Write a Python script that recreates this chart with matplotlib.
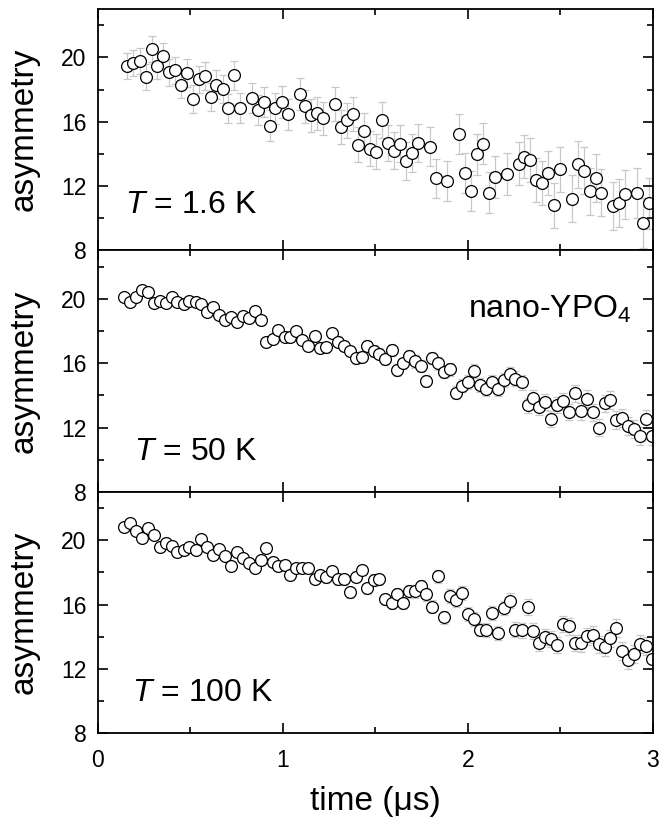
import matplotlib
matplotlib.use('Agg')
import matplotlib.pyplot as plt
from matplotlib.ticker import MultipleLocator

plt.rcParams['font.family'] = ['Liberation Sans', 'DejaVu Sans']
plt.rcParams['mathtext.fontset'] = 'custom'
plt.rcParams['mathtext.rm'] = 'Liberation Sans'
plt.rcParams['mathtext.it'] = 'Liberation Sans:italic'

# T = 1.6 K
t_low = [0.161, 0.192, 0.228, 0.260, 0.291, 0.323, 0.354, 0.385, 0.419, 0.449,
         0.482, 0.514, 0.545, 0.579, 0.612, 0.642, 0.675, 0.707, 0.739, 0.770,
         0.833, 0.867, 0.898, 0.930, 0.961, 0.995, 1.028, 1.091, 1.123, 1.154,
         1.186, 1.218, 1.281, 1.314, 1.346, 1.379, 1.409, 1.442, 1.474, 1.505,
         1.539, 1.571, 1.602, 1.634, 1.667, 1.699, 1.732, 1.795, 1.829, 1.890,
         1.955, 1.987, 2.020, 2.050, 2.083, 2.115, 2.148, 2.211, 2.276, 2.306,
         2.339, 2.371, 2.403, 2.436, 2.466, 2.499, 2.564, 2.594, 2.628, 2.659,
         2.691, 2.722, 2.787, 2.819, 2.852, 2.915, 2.947, 2.979]
asy_low = [19.46, 19.65, 19.77, 18.79, 20.54, 19.46, 20.08, 19.08, 19.19, 18.29,
           19.02, 17.42, 18.63, 18.85, 17.52, 18.31, 18.04, 16.83, 18.88, 16.85,
           17.50, 16.71, 17.23, 15.75, 16.83, 17.23, 16.46, 17.71, 16.96, 16.40,
           16.52, 16.21, 17.08, 15.69, 16.08, 16.48, 14.58, 15.44, 14.33, 14.15,
           16.08, 14.67, 14.21, 14.63, 13.56, 14.06, 14.67, 14.46, 12.48, 12.31,
           15.23, 12.79, 11.71, 13.98, 14.63, 11.60, 12.56, 12.73, 13.38, 13.83,
           13.63, 12.38, 12.21, 12.83, 10.81, 13.06, 11.23, 13.35, 12.96, 11.67,
           12.50, 11.60, 10.77, 10.96, 11.48, 11.58, 9.71, 10.92]
err_low = [0.78, 0.79, 0.80, 0.80, 0.81, 0.82, 0.82, 0.83, 0.84, 0.84,
           0.85, 0.86, 0.86, 0.87, 0.88, 0.88, 0.89, 0.90, 0.90, 0.91,
           0.93, 0.94, 0.95, 0.95, 0.96, 0.97, 0.98, 1.00, 1.01, 1.02,
           1.02, 1.03, 1.05, 1.06, 1.07, 1.08, 1.08, 1.09, 1.10, 1.11,
           1.12, 1.13, 1.14, 1.14, 1.15, 1.16, 1.17, 1.19, 1.20, 1.22,
           1.23, 1.24, 1.25, 1.26, 1.27, 1.28, 1.29, 1.31, 1.33, 1.34,
           1.35, 1.36, 1.37, 1.38, 1.39, 1.40, 1.43, 1.44, 1.45, 1.46,
           1.47, 1.48, 1.50, 1.51, 1.52, 1.54, 1.55, 1.56]

# T = 50 K and T = 100 K share the same time bins
t_high = [0.143, 0.176, 0.208, 0.237, 0.273, 0.304, 0.336, 0.368, 0.401, 0.431,
          0.464, 0.496, 0.529, 0.561, 0.592, 0.624, 0.657, 0.689, 0.721, 0.752,
          0.784, 0.817, 0.849, 0.882, 0.912, 0.945, 0.977, 1.010, 1.042, 1.074,
          1.107, 1.139, 1.172, 1.202, 1.235, 1.267, 1.298, 1.330, 1.363, 1.395,
          1.427, 1.458, 1.492, 1.521, 1.555, 1.589, 1.620, 1.651, 1.683, 1.715,
          1.746, 1.777, 1.809, 1.842, 1.874, 1.906, 1.939, 1.971, 2.004, 2.036,
          2.068, 2.101, 2.133, 2.164, 2.196, 2.227, 2.258, 2.292, 2.324, 2.355,
          2.387, 2.420, 2.452, 2.483, 2.515, 2.547, 2.582, 2.612, 2.645, 2.677,
          2.710, 2.740, 2.771, 2.803, 2.836, 2.868, 2.900, 2.933, 2.965, 2.994]
asy_50 = [20.10, 19.79, 20.14, 20.52, 20.45, 19.73, 19.85, 19.75, 20.12, 19.81,
          19.69, 19.85, 19.77, 19.65, 19.17, 19.46, 19.00, 18.71, 18.84, 18.55,
          18.96, 18.82, 19.25, 18.67, 17.33, 17.53, 18.09, 17.64, 17.64, 17.97,
          17.45, 17.06, 17.68, 16.95, 16.98, 17.89, 17.33, 17.06, 16.75, 16.29,
          16.40, 17.06, 16.75, 16.60, 16.23, 16.81, 15.55, 15.98, 16.44, 16.11,
          15.82, 14.88, 16.33, 15.98, 15.48, 15.61, 14.16, 14.61, 14.84, 15.50,
          14.64, 14.41, 14.84, 14.41, 14.95, 15.30, 15.03, 14.82, 13.37, 13.85,
          13.27, 13.58, 12.54, 13.39, 13.62, 12.96, 14.12, 13.00, 13.79, 12.96,
          11.99, 13.50, 13.72, 12.48, 12.61, 12.07, 11.88, 11.47, 12.54, 11.47]
asy_100 = [20.83, 21.04, 20.58, 20.12, 20.75, 20.31, 19.58, 19.83, 19.63, 19.27,
           19.40, 19.58, 19.38, 20.06, 19.56, 19.09, 19.44, 19.02, 18.40, 19.25,
           18.90, 18.59, 18.28, 18.75, 19.52, 18.67, 18.40, 18.48, 17.82, 18.30,
           18.30, 18.28, 17.61, 17.84, 17.69, 18.07, 17.57, 17.57, 16.76, 17.74,
           18.15, 17.01, 17.53, 17.57, 16.32, 16.07, 16.68, 16.12, 16.82, 16.82,
           17.15, 16.64, 15.87, 17.76, 15.20, 16.53, 16.26, 16.72, 15.41, 15.08,
           14.45, 14.41, 15.49, 14.25, 15.80, 16.24, 14.45, 14.41, 15.85, 14.35,
           13.62, 14.00, 13.87, 13.50, 14.79, 14.64, 13.62, 13.60, 14.04, 14.14,
           13.54, 13.35, 13.91, 14.54, 13.10, 12.54, 12.96, 13.54, 13.42, 12.65]
err_high = [0.22, 0.22, 0.22, 0.23, 0.23, 0.23, 0.23, 0.24, 0.24, 0.24,
            0.24, 0.25, 0.25, 0.25, 0.25, 0.26, 0.26, 0.26, 0.27, 0.27,
            0.27, 0.28, 0.28, 0.28, 0.29, 0.29, 0.29, 0.30, 0.30, 0.30,
            0.31, 0.31, 0.31, 0.32, 0.32, 0.32, 0.33, 0.33, 0.33, 0.34,
            0.34, 0.35, 0.35, 0.35, 0.36, 0.36, 0.37, 0.37, 0.38, 0.38,
            0.38, 0.39, 0.39, 0.40, 0.40, 0.41, 0.41, 0.42, 0.42, 0.43,
            0.43, 0.44, 0.44, 0.45, 0.45, 0.46, 0.46, 0.47, 0.47, 0.48,
            0.48, 0.49, 0.49, 0.50, 0.50, 0.51, 0.51, 0.52, 0.52, 0.53,
            0.53, 0.54, 0.54, 0.55, 0.55, 0.56, 0.56, 0.57, 0.57, 0.58]

panels = [
    (t_low, asy_low, err_low, r'$T$ = 1.6 K', (0.147, 10.3)),
    (t_high, asy_50, err_high, r'$T$ = 50 K', (0.197, 10.0)),
    (t_high, asy_100, err_high, r'$T$ = 100 K', (0.183, 10.0)),
]

fig, axes = plt.subplots(3, 1, figsize=(6.6, 8.24), dpi=100, sharex=True)
fig.subplots_adjust(left=0.148, right=0.989, bottom=0.110, top=0.989, hspace=0)

for ax, (t, a, e, label, pos) in zip(axes, panels):
    ax.errorbar(t, a, yerr=e, fmt='none', ecolor='#c8c8c8', elinewidth=0.9,
                capsize=3, capthick=0.9, zorder=1)
    ax.plot(t, a, 'o', mfc='white', mec='black', ms=8.5, mew=0.9, zorder=2)
    ax.set_xlim(0, 3)
    ax.set_ylim(8, 23)
    ax.set_yticks([8, 12, 16, 20])
    ax.yaxis.set_minor_locator(MultipleLocator(2))
    ax.xaxis.set_major_locator(MultipleLocator(1))
    ax.xaxis.set_minor_locator(MultipleLocator(0.5))
    ax.tick_params(which='both', direction='in', top=True, right=True,
                   width=1.2, labelsize=16.5, pad=8)
    ax.tick_params(axis='x', pad=11)
    ax.tick_params(which='major', length=7)
    ax.tick_params(which='minor', length=4)
    for sp in ax.spines.values():
        sp.set_linewidth(1.3)
    ax.set_ylabel('asymmetry', fontsize=24)
    ax.yaxis.set_label_coords(-0.105, 0.5)
    ax.text(pos[0], pos[1], label, fontsize=23)

axes[1].text(2.0, 18.82, r'nano-YPO$_4$', fontsize=23)
axes[2].set_xlabel('time (\u03bcs)', fontsize=24, labelpad=10)

fig.savefig('out.png', dpi=100)
